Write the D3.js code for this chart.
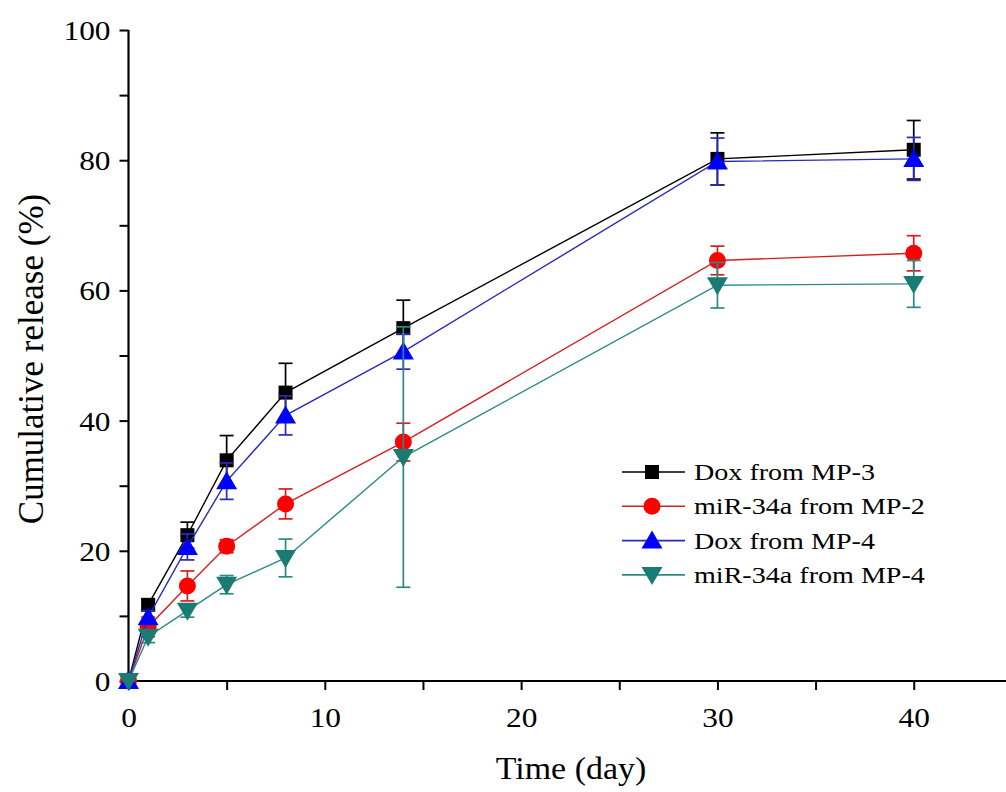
<!DOCTYPE html>
<html><head><meta charset="utf-8">
<script src="https://cdn.jsdelivr.net/npm/d3@7/dist/d3.min.js"></script>
<style>body{margin:0;background:#fff;} svg{display:block;} text{font-family:"Liberation Serif","Times New Roman",serif;}</style>
</head><body>
<svg id="c" width="1006" height="792"></svg>
<script>
const days = [0, 1, 3, 5, 8, 14, 30, 40];
const seriesNames = ["Dox from MP-3", "miR-34a from MP-2", "Dox from MP-4", "miR-34a from MP-4"];
const doxMP3 = [0, 11.7, 22.4, 33.9, 44.3, 54.2, 80.2, 81.6];
const doxMP3Err = [0, 0.8, 2.0, 3.8, 4.5, 4.3, 4.0, 4.5];
const mirMP2 = [0, 8.3, 14.6, 20.7, 27.2, 36.7, 64.6, 65.7];
const mirMP2Err = [0, 1.5, 2.3, 1.0, 2.3, 2.9, 2.2, 2.7];
const doxMP4 = [0, 9.8, 20.6, 30.7, 40.8, 50.6, 79.8, 80.2];
const doxMP4Err = [0, 1.0, 2.0, 2.8, 3.0, 2.7, 3.6, 3.3];
const mirMP4 = [0, 6.8, 10.8, 14.8, 18.9, 34.4, 60.8, 61.0];
const mirMP4Err = [0, 0.9, 1.0, 1.4, 2.9, 20.0, 3.5, 3.6];
const xTicks = [0, 10, 20, 30, 40];
const yTicks = [0, 20, 40, 60, 80, 100];

const series = [
  {name: seriesNames[0], y: doxMP3, e: doxMP3Err, color: "#000000", line: "#000000", shape: "square"},
  {name: seriesNames[1], y: mirMP2, e: mirMP2Err, color: "#ff0000", line: "#d42020", shape: "circle"},
  {name: seriesNames[2], y: doxMP4, e: doxMP4Err, color: "#0000ff", line: "#2a2ab8", shape: "tri"},
  {name: seriesNames[3], y: mirMP4, e: mirMP4Err, color: "#1a7a74", line: "#2a8a84", shape: "tridown"}
];

const svg = d3.select("#c");
const x = d3.scaleLinear().domain([0, 44.7]).range([128.5, 1006]);
const y = d3.scaleLinear().domain([0, 100]).range([681, 30]);
const font = '"Liberation Serif","Times New Roman",serif';

function stretch(sel, k) {
  sel.each(function () {
    const n = this.getComputedTextLength();
    if (n > 0) d3.select(this).attr("textLength", n * k).attr("lengthAdjust", "spacingAndGlyphs");
  });
}

// axes
const xAxis = d3.axisBottom(x).tickValues(d3.range(0, 45, 5)).tickSize(9)
  .tickFormat(d => xTicks.includes(d) ? d : "");
const gx = svg.append("g").attr("transform", "translate(0,681)").call(xAxis);
gx.attr("font-family", null);
gx.select(".domain").attr("stroke-width", 2.2).attr("d", "M128.5,0H1006");
gx.selectAll(".tick line").attr("stroke-width", 2);
gx.selectAll(".tick text").style("font-family", font).attr("font-size", 28).attr("fill", "#000")
  .attr("y", 46).attr("dy", 0);
stretch(gx.selectAll(".tick text"), 1.12);

const yAxis = d3.axisLeft(y).tickValues(d3.range(0, 101, 10)).tickSize(9)
  .tickFormat(d => yTicks.includes(d) ? d : "");
const gy = svg.append("g").attr("transform", "translate(128.5,0)").call(yAxis);
gy.attr("font-family", null);
gy.select(".domain").attr("stroke-width", 2.2).attr("d", "M0,681V30");
gy.selectAll(".tick line").attr("stroke-width", 2);
gy.selectAll(".tick text").style("font-family", font).attr("font-size", 28).attr("fill", "#000")
  .attr("x", -18).attr("dy", "0.34em");
stretch(gy.selectAll(".tick text"), 1.12);

const tx = svg.append("text").attr("x", 571).attr("y", 779).attr("text-anchor", "middle")
  .style("font-family", font).attr("font-size", 32).text("Time (day)");
stretch(tx, 1.06);
svg.append("text").attr("transform", "translate(43,359) rotate(-90)").attr("text-anchor", "middle")
  .style("font-family", font).attr("font-size", 35).text("Cumulative release (%)");

function marker(g, shape, color, cx, cy) {
  if (shape === "square") g.append("rect").attr("x", cx - 7).attr("y", cy - 7).attr("width", 14).attr("height", 14).attr("fill", color);
  else if (shape === "circle") g.append("circle").attr("cx", cx).attr("cy", cy).attr("r", 8.5).attr("fill", color);
  else if (shape === "tri") g.append("path").attr("d", `M${cx},${cy-10}L${cx+10.5},${cy+8}L${cx-10.5},${cy+8}Z`).attr("fill", color);
  else g.append("path").attr("d", `M${cx},${cy+10}L${cx+10.5},${cy-8}L${cx-10.5},${cy-8}Z`).attr("fill", color);
}

const line = d3.line().x(d => x(d[0])).y(d => y(d[1]));
series.forEach(s => {
  const g = svg.append("g");
  g.append("path").datum(days.map((d, i) => [d, s.y[i]])).attr("d", line)
    .attr("fill", "none").attr("stroke", s.line).attr("stroke-width", 1.4);
  days.forEach((d, i) => {
    if (s.e[i] <= 0) return;
    const cx = x(d), t = y(s.y[i] + s.e[i]), b = y(s.y[i] - s.e[i]);
    g.append("line").attr("x1", cx).attr("x2", cx).attr("y1", t).attr("y2", b).attr("stroke", s.line).attr("stroke-width", 1.7);
    [t, b].forEach(v => g.append("line").attr("x1", cx - 7).attr("x2", cx + 7).attr("y1", v).attr("y2", v).attr("stroke", s.line).attr("stroke-width", 1.7));
  });
  days.forEach((d, i) => marker(g, s.shape, s.color, x(d), y(s.y[i])));
});

// legend
const lg = svg.append("g");
series.forEach((s, i) => {
  const ly = 472 + i * 34.3;
  lg.append("line").attr("x1", 622).attr("x2", 685).attr("y1", ly).attr("y2", ly).attr("stroke", s.line).attr("stroke-width", 1.6);
  marker(lg, s.shape, s.color, 652, ly);
  const t = lg.append("text").attr("x", 694).attr("y", ly + 8).style("font-family", font).attr("font-size", 24).text(s.name);
  stretch(t, 1.17);
});
</script>
</body></html>
